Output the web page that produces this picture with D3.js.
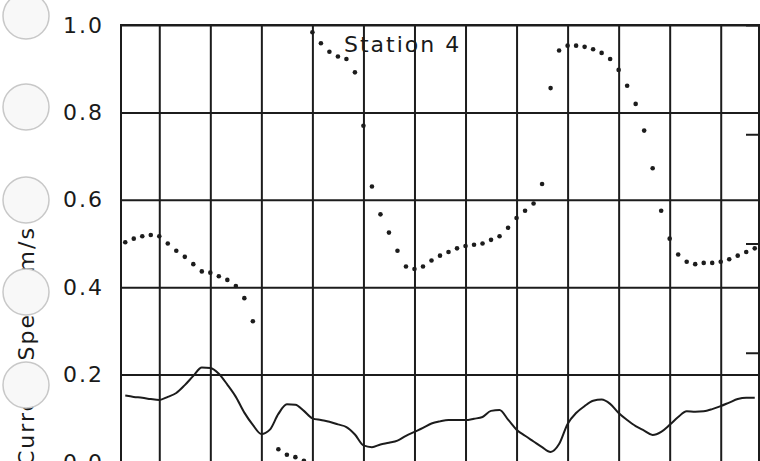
<!DOCTYPE html>
<html>
<head>
<meta charset="utf-8">
<script src="https://cdn.jsdelivr.net/npm/d3@7"></script>
<style>
  body { margin: 0; background: #fff; }
  text { font-family: "DejaVu Sans", sans-serif; fill: #1a1a1a; }
</style>
</head>
<body>
<div id="chart"></div>
<script>
// samples every 10 min, first one at t = 1/3 h (grid lines every hour)
const startHour = 2 / 6;
const stepHour = 1 / 6;

// current direction (deg, right scale 0-360), null = no point plotted
const direction = [
  181, 184, 186, 187, 186, 180, 174, 169, 163, 157,
  156, 153, 150, 145, 135, 116, null, null, 10.5, 6,
  4, 1, 354, 345, 338, 334, 332, 321, 277, 227,
  204, 189, 174, 161, 159, 161, 166, 170, 173, 176,
  178, 179, 180, 183, 186, 193, 201, 207, 213, 229,
  308, 339, 343, 343, 342, 340, 337, 332, 323, 310,
  295, 273, 242, 207, 184, 171, 165, 163, 164, 164,
  165, 167, 170, 173, 176
];

// current speed (m/s, left scale)
const speed = [
  0.152, 0.149, 0.147, 0.144, 0.142, 0.149, 0.158, 0.176, 0.197, 0.216,
  0.215, 0.202, 0.177, 0.149, 0.113, 0.085, 0.064, 0.074, 0.110, 0.132,
  0.131, 0.117, 0.100, 0.096, 0.092, 0.086, 0.080, 0.063, 0.038, 0.034,
  0.040, 0.044, 0.049, 0.060, 0.069, 0.078, 0.088, 0.093, 0.096, 0.096,
  0.096, 0.099, 0.103, 0.117, 0.119, 0.097, 0.074, 0.060, 0.047, 0.034,
  0.023, 0.041, 0.087, 0.112, 0.128, 0.140, 0.143, 0.133, 0.112, 0.096,
  0.082, 0.072, 0.062, 0.069, 0.085, 0.103, 0.116, 0.115, 0.116, 0.121,
  0.128, 0.136, 0.144, 0.147, 0.147
];

const speedTicks = [0, 0.2, 0.4, 0.6, 0.8, 1.0];
const dirTicks = [0, 90, 180, 270, 360];
const hourGrid = [1, 2, 3, 4, 5, 6, 7, 8, 9, 10, 11, 12];
const title = "Station 4";
const yTitle = "Current Speed m/s";

const W = 760, H = 461;
const margin = {left: 121, top: 25, right: 1};
const plotW = W - margin.left - margin.right;
const plotH = 437;

const svg = d3.select("#chart").append("svg")
  .attr("width", W).attr("height", H);

const g = svg.append("g")
  .attr("transform", "translate(" + margin.left + "," + margin.top + ")");

const x = d3.scaleLinear().domain([0.25, 12.75]).range([0, plotW]);
const y = d3.scaleLinear().domain([0, 1]).range([plotH, 0]);
const yDir = d3.scaleLinear().domain([0, 360]).range([plotH, 0]);

const ink = "#1c1c1c";

// horizontal grid + labels
const yAxis = g.append("g")
  .call(d3.axisLeft(y).tickValues(speedTicks).tickSize(-plotW).tickPadding(17)
    .tickFormat(d3.format(".1f")));
yAxis.select(".domain").remove();
yAxis.selectAll(".tick line").attr("stroke", ink).attr("stroke-width", 2);
yAxis.selectAll(".tick text")
  .style("font-size", "22px").style("letter-spacing", "2px").attr("fill", ink);

// vertical grid
const xAxis = g.append("g")
  .attr("transform", "translate(0," + plotH + ")")
  .call(d3.axisBottom(x).tickValues(hourGrid).tickSize(-plotH).tickFormat(""));
xAxis.select(".domain").remove();
xAxis.selectAll(".tick line").attr("stroke", ink).attr("stroke-width", 2);

// right axis: short inward ticks for direction
const rAxis = g.append("g")
  .attr("transform", "translate(" + plotW + ",0)")
  .call(d3.axisRight(yDir).tickValues(dirTicks).tickSize(-13).tickFormat(""));
rAxis.select(".domain").remove();
rAxis.selectAll(".tick line").attr("stroke", ink).attr("stroke-width", 2);

// frame
g.append("rect")
  .attr("x", 0).attr("y", 0).attr("width", plotW).attr("height", plotH)
  .attr("fill", "none").attr("stroke", ink).attr("stroke-width", 2);

// speed line
const line = d3.line()
  .x((d, i) => x(startHour + i * stepHour))
  .y(d => y(d))
  .curve(d3.curveMonotoneX);

g.append("path")
  .datum(speed)
  .attr("d", line)
  .attr("fill", "none")
  .attr("stroke", ink)
  .attr("stroke-width", 2);

// direction dots
const dirPoints = direction
  .map((d, i) => ({t: startHour + i * stepHour, v: d}))
  .filter(d => d.v !== null);

g.selectAll("circle.dir")
  .data(dirPoints)
  .enter().append("circle")
  .attr("class", "dir")
  .attr("cx", d => x(d.t))
  .attr("cy", d => yDir(d.v))
  .attr("r", 2.3)
  .attr("fill", ink);

// title
g.append("text")
  .attr("x", 223).attr("y", 27)
  .style("font-size", "22px").style("letter-spacing", "2px")
  .text(title);

// y title (partly hidden by the punch holes)
svg.append("text")
  .attr("transform", "translate(34,466) rotate(-90)")
  .style("font-size", "22px").style("letter-spacing", "2px")
  .text(yTitle);

// punch holes of the binder sheet
const holes = [16, 107, 200, 292, 385];
svg.selectAll("circle.hole")
  .data(holes)
  .enter().append("circle")
  .attr("class", "hole")
  .attr("cx", 26).attr("cy", d => d)
  .attr("r", 23)
  .attr("fill", "#f8f8f8")
  .attr("stroke", "#c8c8c8")
  .attr("stroke-width", 1.5);
</script>
</body>
</html>
